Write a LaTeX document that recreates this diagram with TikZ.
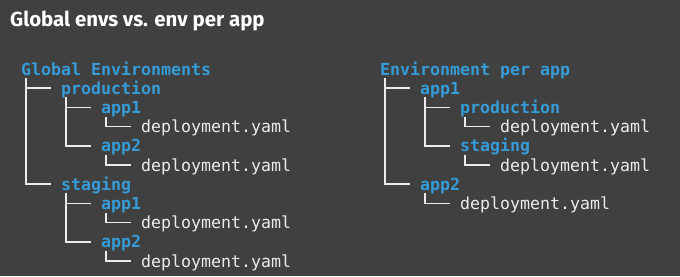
\documentclass[tikz,border=0pt]{standalone}
\usepackage{fontspec}
\setsansfont{Fira Sans}
\setmonofont{DejaVu Sans Mono}
\usepackage{xcolor}
\usetikzlibrary{positioning}

\definecolor{slidebg}{HTML}{404040}
\definecolor{dirblue}{HTML}{359CD8}
\definecolor{treewhite}{HTML}{ECECEC}

\begin{document}
\begin{tikzpicture}[
    x=1pt, y=-1pt,
    dir/.style={anchor=base west, inner sep=0pt, text height=15pt, text depth=3pt, text=dirblue, font=\fontsize{16.6}{19}\selectfont\ttfamily\bfseries},
    file/.style={anchor=base west, inner sep=0pt, text height=15pt, text depth=3pt, text=treewhite, font=\fontsize{16.6}{19}\selectfont\ttfamily},
    branch/.style={draw=treewhite, line width=1.6pt}
]
% Slide background
\fill[slidebg] (0,0) rectangle (680,276);
\useasboundingbox (0,0) rectangle (680,276);
\node[anchor=base west, inner sep=0pt, text=white, font=\fontsize{20.4}{24}\selectfont\sffamily\bfseries] (title) at (10,26) {Global envs vs. env per app};

% Global environments tree
\node[dir] (gRoot) at (21,75) {Global Environments};
\node[dir] (gProd) at (61,94.2) {production};
\node[dir] (gProdA) at (101,113.4) {app1};
\node[file] (gProdAFile) at (141,132.6) {deployment.yaml};
\node[dir] (gProdB) at (101,151.8) {app2};
\node[file] (gProdBFile) at (141,171) {deployment.yaml};
\node[dir] (gStag) at (61,190.2) {staging};
\node[dir] (gStagA) at (101,209.4) {app1};
\node[file] (gStagAFile) at (141,228.6) {deployment.yaml};
\node[dir] (gStagB) at (101,247.8) {app2};
\node[file] (gStagBFile) at (141,267) {deployment.yaml};

% Environment per app tree
\node[dir] (aRoot) at (380,75) {Environment per app};
\node[dir] (aApp1) at (420,94.2) {app1};
\node[dir] (aApp1Prod) at (460,113.4) {production};
\node[file] (aApp1ProdFile) at (500,132.6) {deployment.yaml};
\node[dir] (aApp1Stag) at (460,151.8) {staging};
\node[file] (aApp1StagFile) at (500,171) {deployment.yaml};
\node[dir] (aApp2) at (420,190.2) {app2};
\node[file] (aApp2File) at (460,209.4) {deployment.yaml};

% Left branches
\draw[branch] ([xshift=5pt]gRoot.south west) |- ([xshift=-10pt]gProd.west);
\draw[branch] ([xshift=5pt]gRoot.south west) |- ([xshift=-10pt]gStag.west);
\draw[branch] ([xshift=5pt]gProd.south west) |- ([xshift=-10pt]gProdA.west);
\draw[branch] ([xshift=5pt]gProd.south west) |- ([xshift=-10pt]gProdB.west);
\draw[branch] ([xshift=5pt]gProdA.south west) |- ([xshift=-10pt]gProdAFile.west);
\draw[branch] ([xshift=5pt]gProdB.south west) |- ([xshift=-10pt]gProdBFile.west);
\draw[branch] ([xshift=5pt]gStag.south west) |- ([xshift=-10pt]gStagA.west);
\draw[branch] ([xshift=5pt]gStag.south west) |- ([xshift=-10pt]gStagB.west);
\draw[branch] ([xshift=5pt]gStagA.south west) |- ([xshift=-10pt]gStagAFile.west);
\draw[branch] ([xshift=5pt]gStagB.south west) |- ([xshift=-10pt]gStagBFile.west);

% Right branches
\draw[branch] ([xshift=5pt]aRoot.south west) |- ([xshift=-10pt]aApp1.west);
\draw[branch] ([xshift=5pt]aRoot.south west) |- ([xshift=-10pt]aApp2.west);
\draw[branch] ([xshift=5pt]aApp1.south west) |- ([xshift=-10pt]aApp1Prod.west);
\draw[branch] ([xshift=5pt]aApp1.south west) |- ([xshift=-10pt]aApp1Stag.west);
\draw[branch] ([xshift=5pt]aApp1Prod.south west) |- ([xshift=-10pt]aApp1ProdFile.west);
\draw[branch] ([xshift=5pt]aApp1Stag.south west) |- ([xshift=-10pt]aApp1StagFile.west);
\draw[branch] ([xshift=5pt]aApp2.south west) |- ([xshift=-10pt]aApp2File.west);
\end{tikzpicture}
\end{document}
